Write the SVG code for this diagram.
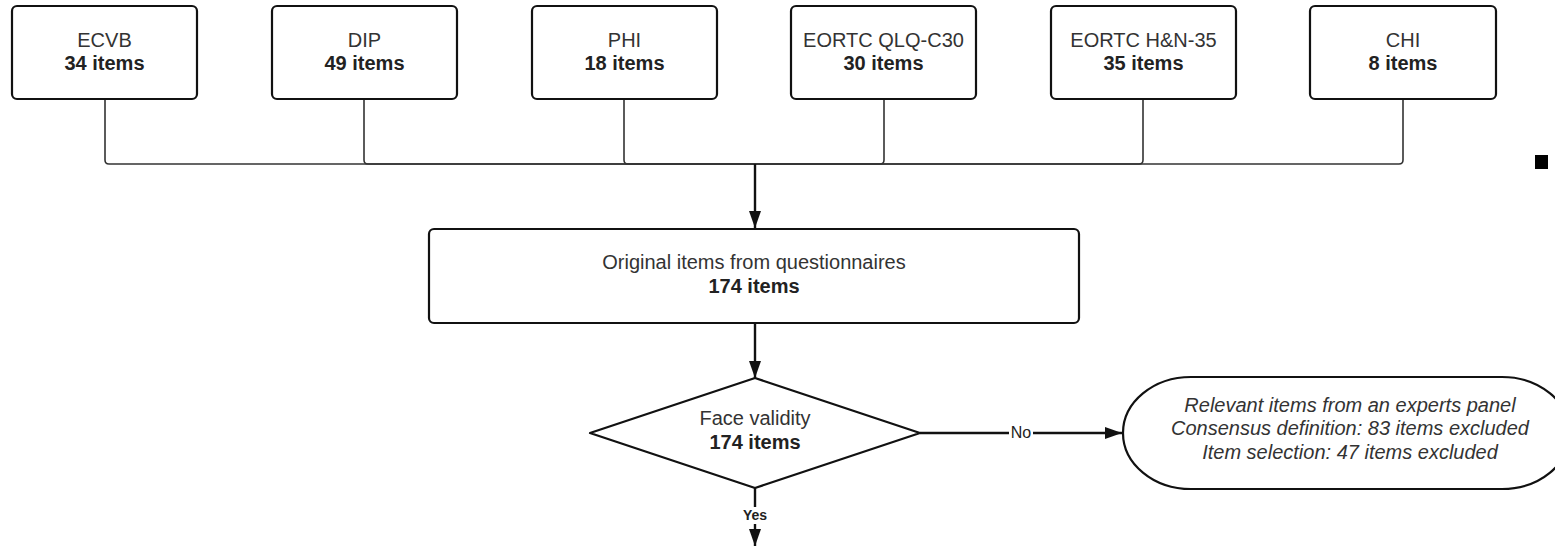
<svg xmlns="http://www.w3.org/2000/svg" width="1555" height="546" viewBox="0 0 1555 546">
<style>
  .box{fill:#fff;stroke:#111;stroke-width:2.2}
  .t{font-family:"Liberation Sans",Arial,sans-serif;font-size:20px;fill:#333;text-anchor:middle}
  .b{font-weight:bold;fill:#222}
  .i{font-style:italic}
  .thin{fill:none;stroke:#333;stroke-width:1.6}
  .arr{fill:none;stroke:#111;stroke-width:2.4}
  .lbl{font-family:"Liberation Sans",Arial,sans-serif;font-size:16px;fill:#222;text-anchor:middle}
</style>
<defs>
  <marker id="ah" viewBox="0 0 17 12" refX="17" refY="6" markerUnits="userSpaceOnUse" markerWidth="17" markerHeight="12" orient="auto">
    <path d="M0,0 L17,6 L0,12 Z" fill="#111"/>
  </marker>
</defs>
<rect width="1555" height="546" fill="#fff"/>

<g id="connectors">
  <path class="thin" d="M105,99 V160 Q105,164 109,164 H755"/>
  <path class="thin" d="M364,99 V160 Q364,164 368,164 H755"/>
  <path class="thin" d="M624,99 V160 Q624,164 628,164 H755"/>
  <path class="thin" d="M884,99 V160 Q884,164 880,164 H755"/>
  <path class="thin" d="M1143,99 V160 Q1143,164 1139,164 H755"/>
  <path class="thin" d="M1403,99 V160 Q1403,164 1399,164 H755"/>
  <path class="arr" d="M755,164 V228" marker-end="url(#ah)"/>
  <path class="arr" d="M755,323 V378" marker-end="url(#ah)"/>
  <path class="arr" d="M920,433 H1122" stroke-width="3" marker-end="url(#ah)"/>
  <path class="arr" d="M755,488 V546" marker-end="url(#ah)"/>
  <rect x="1009" y="424" width="24" height="16" fill="#fff"/>
  <text class="lbl" x="1021" y="438">No</text>
  <rect x="739" y="507" width="32" height="17" fill="#fff"/>
  <text class="lbl b" x="755" y="520" style="font-size:14px">Yes</text>
</g>

<g id="ecvb">
  <rect class="box" x="12" y="6" width="185" height="93" rx="5"/>
  <text class="t" x="104.5" y="47">ECVB</text>
  <text class="t b" x="104.5" y="70">34 items</text>
</g>
<g id="dip">
  <rect class="box" x="272" y="6" width="185" height="93" rx="5"/>
  <text class="t" x="364.5" y="47">DIP</text>
  <text class="t b" x="364.5" y="70">49 items</text>
</g>
<g id="phi">
  <rect class="box" x="532" y="6" width="185" height="93" rx="5"/>
  <text class="t" x="624.5" y="47">PHI</text>
  <text class="t b" x="624.5" y="70">18 items</text>
</g>
<g id="qlq">
  <rect class="box" x="791" y="6" width="185" height="93" rx="5"/>
  <text class="t" x="883.5" y="47">EORTC QLQ-C30</text>
  <text class="t b" x="883.5" y="70">30 items</text>
</g>
<g id="hn">
  <rect class="box" x="1051" y="6" width="185" height="93" rx="5"/>
  <text class="t" x="1143.5" y="47">EORTC H&amp;N-35</text>
  <text class="t b" x="1143.5" y="70">35 items</text>
</g>
<g id="chi">
  <rect class="box" x="1310" y="6" width="186" height="93" rx="5"/>
  <text class="t" x="1403" y="47">CHI</text>
  <text class="t b" x="1403" y="70">8 items</text>
</g>

<g id="original">
  <rect class="box" x="429" y="229" width="650" height="94" rx="5"/>
  <text class="t" x="754" y="269">Original items from questionnaires</text>
  <text class="t b" x="754" y="293">174 items</text>
</g>

<g id="face">
  <path class="box" d="M755,378 L920,433 L755,488 L590,433 Z" stroke-linejoin="round"/>
  <text class="t" x="755" y="425">Face validity</text>
  <text class="t b" x="755" y="449">174 items</text>
</g>

<g id="excluded">
  <rect class="box" x="1123" y="377" width="447" height="112" rx="68" ry="56"/>
  <text class="t i" x="1350" y="412">Relevant items from an experts panel</text>
  <text class="t i" x="1350" y="435">Consensus definition: 83 items excluded</text>
  <text class="t i" x="1350" y="459">Item selection: 47 items excluded</text>
</g>

<rect x="1535" y="155" width="13" height="14" fill="#000"/>
</svg>
